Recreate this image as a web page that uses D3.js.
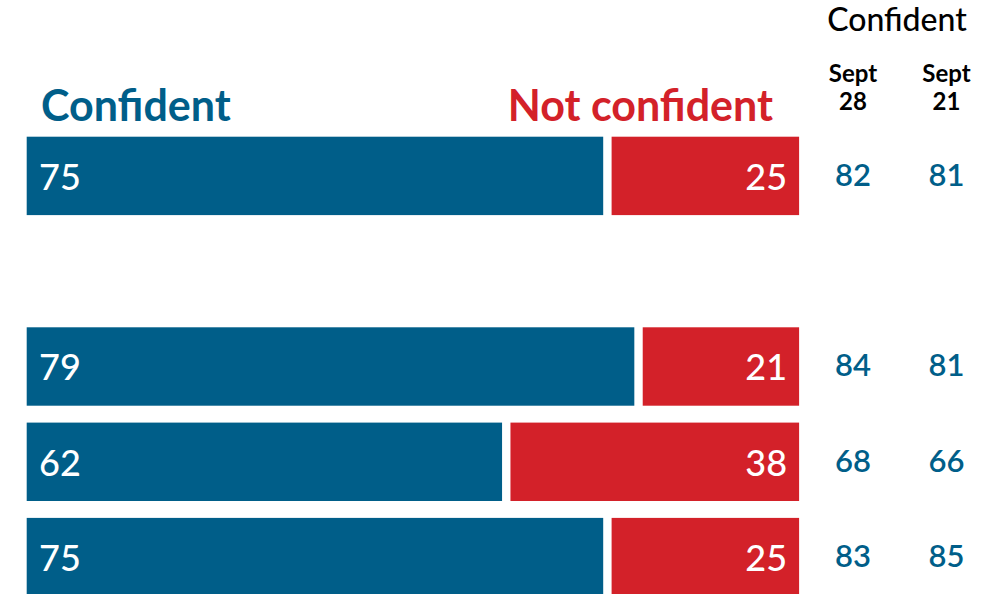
<!DOCTYPE html>
<html>
<head>
<meta charset="utf-8">
<script src="https://cdn.jsdelivr.net/npm/d3@7"></script>
<style>
  body { margin: 0; background: #fff; }
  svg text { font-family: Lato, "Open Sans", sans-serif; }
</style>
</head>
<body>
<svg id="chart"></svg>
<script>
// rows of the chart, the second row is an empty spacer
var rows = ["r1", "r2", "r3", "r4", "r5"];
var confident = [75, null, 79, 62, 75];
var notConfident = [25, null, 21, 38, 25];
var sept28 = [82, null, 84, 68, 83];
var sept21 = [81, null, 81, 66, 85];
var dateCols = [["Sept", "28"], ["Sept", "21"]];

var blue = "#005e89", red = "#d32129";
var svgWidth = 995, svgHeight = 594;

var svg = d3.select("#chart")
  .attr("width", svgWidth)
  .attr("height", svgHeight);

var y = d3.scaleBand()
  .domain(rows)
  .range([136.7, 596.3])
  .paddingInner(0.1773)
  .paddingOuter(0);

// each segment loses a little width so the two parts sit apart
var w = d3.scaleLinear().domain([0, 100]).range([0, 778]);
var x0 = 26.7, trim = 7, gap = 8.4;

var data = rows.map(function(r, i) {
  return { row: r, c: confident[i], n: notConfident[i], s28: sept28[i], s21: sept21[i] };
}).filter(function(d) { return d.c != null; });

var g = svg.selectAll("g.row")
  .data(data)
  .enter()
  .append("g")
  .attr("class", "row")
  .attr("transform", function(d) { return "translate(0," + y(d.row) + ")"; });

g.append("rect")
  .attr("x", x0)
  .attr("width", function(d) { return w(d.c) - trim; })
  .attr("height", y.bandwidth())
  .attr("fill", blue);

g.append("rect")
  .attr("x", function(d) { return x0 + w(d.c) - trim + gap; })
  .attr("width", function(d) { return w(d.n) - trim; })
  .attr("height", y.bandwidth())
  .attr("fill", red);

g.append("text")
  .attr("x", 39)
  .attr("y", 53)
  .attr("fill", "#fff")
  .style("font-size", "36px")
  .style("font-weight", 500)
  .text(function(d) { return d.c; });

g.append("text")
  .attr("x", function(d) { return x0 + w(d.c) - trim + gap + w(d.n) - trim - 12; })
  .attr("y", 53)
  .attr("fill", "#fff")
  .attr("text-anchor", "end")
  .style("font-size", "36px")
  .style("font-weight", 500)
  .text(function(d) { return d.n; });

var colX = [853, 946.5];

g.append("text")
  .attr("x", colX[0])
  .attr("y", 49)
  .attr("text-anchor", "middle")
  .attr("fill", blue)
  .style("font-size", "31px")
  .style("font-weight", 600)
  .text(function(d) { return d.s28; });

g.append("text")
  .attr("x", colX[1])
  .attr("y", 49)
  .attr("text-anchor", "middle")
  .attr("fill", blue)
  .style("font-size", "31px")
  .style("font-weight", 600)
  .text(function(d) { return d.s21; });

// headers
svg.append("text")
  .attr("x", 41)
  .attr("y", 121)
  .attr("fill", blue)
  .style("font-size", "43px")
  .style("font-weight", 700)
  .text("Confident");

svg.append("text")
  .attr("x", 773)
  .attr("y", 121)
  .attr("text-anchor", "end")
  .attr("fill", red)
  .style("font-size", "43px")
  .style("font-weight", 700)
  .text("Not confident");

svg.append("text")
  .attr("x", 897)
  .attr("y", 31)
  .attr("text-anchor", "middle")
  .attr("fill", "#000")
  .style("font-size", "32px")
  .style("font-weight", 500)
  .text("Confident");

dateCols.forEach(function(lbl, i) {
  var t = svg.append("text")
    .attr("x", colX[i])
    .attr("text-anchor", "middle")
    .attr("fill", "#000")
    .style("font-size", "24px")
    .style("font-weight", 700);
  t.append("tspan").attr("x", colX[i]).attr("y", 81.5).text(lbl[0]);
  t.append("tspan").attr("x", colX[i]).attr("y", 110).text(lbl[1]);
});
</script>
</body>
</html>
